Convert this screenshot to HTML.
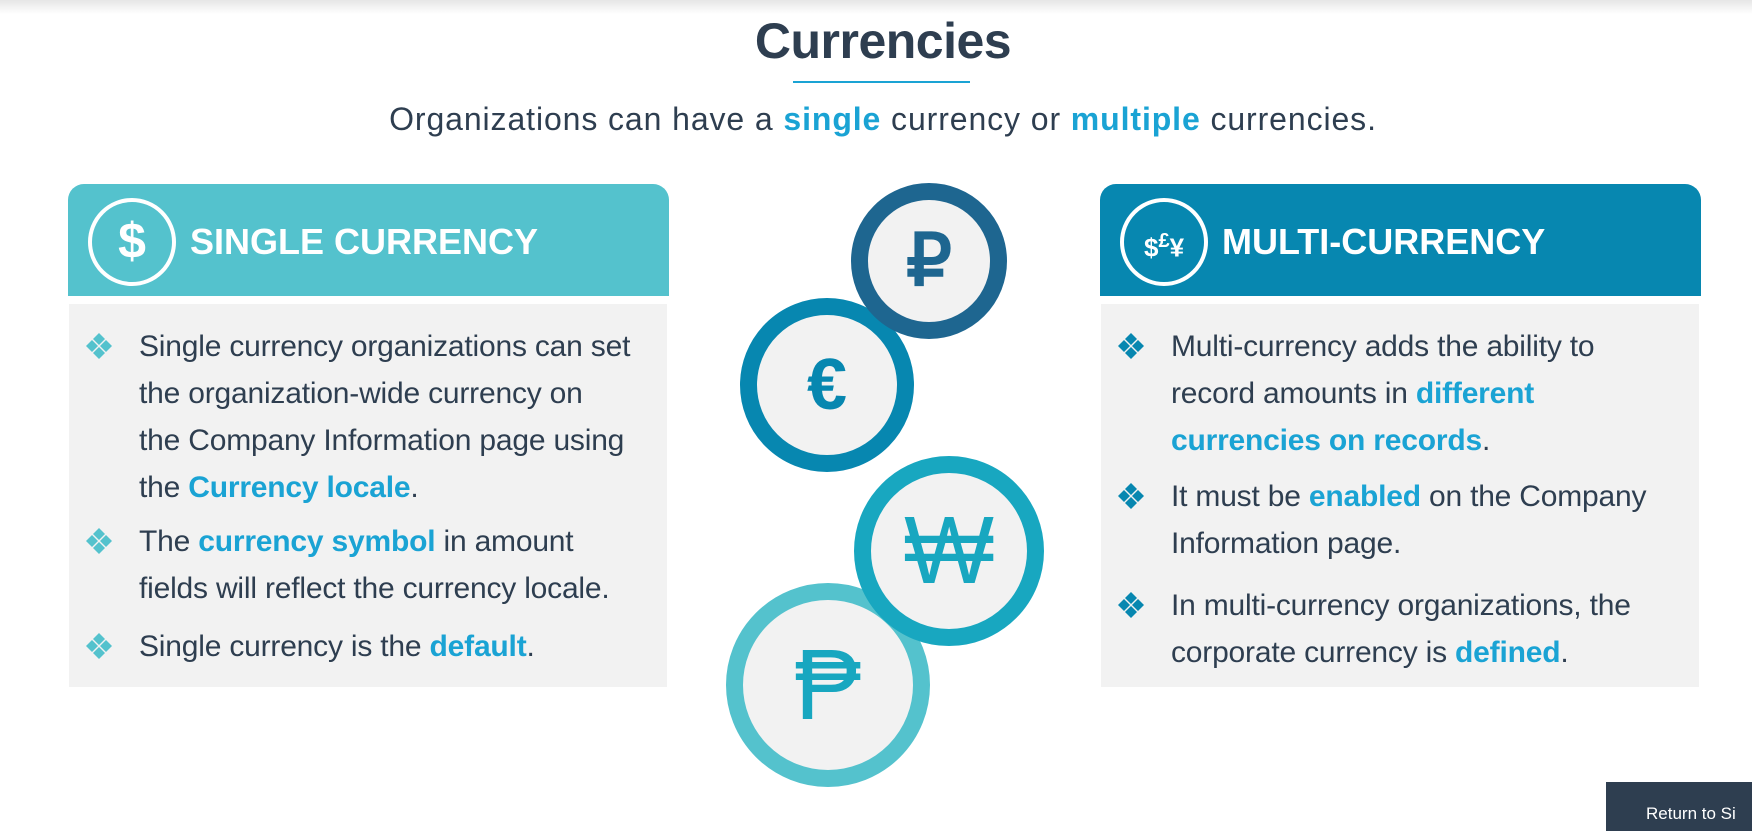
<!DOCTYPE html>
<html><head><meta charset="utf-8">
<style>
*{margin:0;padding:0;box-sizing:border-box}
body{width:1752px;height:831px;overflow:hidden;background:#fff;font-family:"Liberation Sans",sans-serif;position:relative;color:#2e3e50}
.topshade{position:absolute;left:0;top:0;width:1752px;height:14px;background:linear-gradient(#e6e6e6,#fff)}
h1{position:absolute;left:0;width:1766px;top:12px;text-align:center;font-size:50px;font-weight:bold;color:#2e3e50;letter-spacing:-0.5px}
.uline{position:absolute;left:793px;top:81px;width:177px;height:2px;background:#1aa3d4}
.sub{position:absolute;left:0;width:1766px;top:101px;text-align:center;font-size:32px;letter-spacing:0.9px;color:#2e3e50}
.b{color:#1aa3d4;font-weight:bold}
.head{position:absolute;top:184px;height:112px;width:601px;border-radius:16px 16px 0 0;color:#fff}
.head .ic{position:absolute;width:88px;height:88px;border:4px solid #fff;border-radius:50%;text-align:center;line-height:78px;font-weight:bold;font-size:50px}
.head .t{position:absolute;font-size:36px;font-weight:bold;white-space:nowrap}
.body{position:absolute;top:304px;height:383px;width:598px;background:#f2f2f2}
.li{position:absolute;left:70px;font-size:30px;line-height:47px;white-space:nowrap;color:#2e3e50;letter-spacing:-0.2px}
.dia{position:absolute;left:16px;width:28px;height:28px}
.coin{position:absolute;border-radius:50%;background:#f2f2f2;text-align:center}
.ret{position:absolute;left:1606px;top:782px;width:146px;height:49px;background:#2e3e50;color:#fff;font-size:17px;padding:22px 0 0 40px;white-space:nowrap;overflow:hidden}
</style></head><body>
<div class="topshade"></div>
<h1>Currencies</h1>
<div class="uline"></div>
<div class="sub">Organizations can have a <span class="b">single</span> currency or <span class="b">multiple</span> currencies.</div>

<div class="head" style="left:68px;background:#54c2cd">
 <div class="ic" style="left:20px;top:14px">$</div>
 <div class="t" style="left:122px;top:37px">SINGLE CURRENCY</div>
</div>
<div class="body" style="left:69px">
 <svg class="dia" style="top:28px" viewBox="0 0 28 28"><g fill="#54c2cd"><path d="M14 1l6 6-6 6-6-6z"/><path d="M7 8l6 6-6 6-6-6z"/><path d="M21 8l6 6-6 6-6-6z"/><path d="M14 15l6 6-6 6-6-6z"/></g></svg>
 <div class="li" style="top:19px">Single currency organizations can set<br>the organization-wide currency on<br>the Company Information page using<br>the <span class="b">Currency locale</span>.</div>
 <svg class="dia" style="top:223px" viewBox="0 0 28 28"><g fill="#54c2cd"><path d="M14 1l6 6-6 6-6-6z"/><path d="M7 8l6 6-6 6-6-6z"/><path d="M21 8l6 6-6 6-6-6z"/><path d="M14 15l6 6-6 6-6-6z"/></g></svg>
 <div class="li" style="top:214px">The <span class="b">currency symbol</span> in amount<br>fields will reflect the currency locale.</div>
 <svg class="dia" style="top:328px" viewBox="0 0 28 28"><g fill="#54c2cd"><path d="M14 1l6 6-6 6-6-6z"/><path d="M7 8l6 6-6 6-6-6z"/><path d="M21 8l6 6-6 6-6-6z"/><path d="M14 15l6 6-6 6-6-6z"/></g></svg>
 <div class="li" style="top:319px">Single currency is the <span class="b">default</span>.</div>
</div>

<div class="head" style="left:1100px;background:#0787b0">
 <div class="ic" style="left:20px;top:14px;font-size:26px">$<sup style="font-size:20px">£</sup>¥</div>
 <div class="t" style="left:122px;top:37px">MULTI-CURRENCY</div>
</div>
<div class="body" style="left:1101px">
 <svg class="dia" style="top:28px" viewBox="0 0 28 28"><g fill="#0787b0"><path d="M14 1l6 6-6 6-6-6z"/><path d="M7 8l6 6-6 6-6-6z"/><path d="M21 8l6 6-6 6-6-6z"/><path d="M14 15l6 6-6 6-6-6z"/></g></svg>
 <div class="li" style="top:19px">Multi-currency adds the ability to<br>record amounts in <span class="b">different</span><br><span class="b">currencies on records</span>.</div>
 <svg class="dia" style="top:178px" viewBox="0 0 28 28"><g fill="#0787b0"><path d="M14 1l6 6-6 6-6-6z"/><path d="M7 8l6 6-6 6-6-6z"/><path d="M21 8l6 6-6 6-6-6z"/><path d="M14 15l6 6-6 6-6-6z"/></g></svg>
 <div class="li" style="top:169px">It must be <span class="b">enabled</span> on the Company<br>Information page.</div>
 <svg class="dia" style="top:287px" viewBox="0 0 28 28"><g fill="#0787b0"><path d="M14 1l6 6-6 6-6-6z"/><path d="M7 8l6 6-6 6-6-6z"/><path d="M21 8l6 6-6 6-6-6z"/><path d="M14 15l6 6-6 6-6-6z"/></g></svg>
 <div class="li" style="top:278px">In multi-currency organizations, the<br>corporate currency is <span class="b">defined</span>.</div>
</div>

<div class="coin" style="z-index:1;left:726px;top:583px;width:204px;height:204px;border:17px solid #54c2cd;color:#18a7c0;font-size:100px;line-height:170px">₱</div>
<div class="coin" style="z-index:2;left:740px;top:298px;width:174px;height:174px;border:17px solid #0787b0;color:#0787b0;font-size:72px;line-height:140px;font-weight:bold">€</div>
<div class="coin" style="z-index:3;left:851px;top:183px;width:156px;height:156px;border:17px solid #1e6690;color:#1e6690;font-size:72px;line-height:122px;font-weight:bold">₽</div>
<div class="coin" style="z-index:4;left:854px;top:456px;width:190px;height:190px;border:17px solid #18a7c0;color:#18a7c0;font-size:96px;line-height:156px">₩</div>

<div class="ret">Return to Si</div>
</body></html>
